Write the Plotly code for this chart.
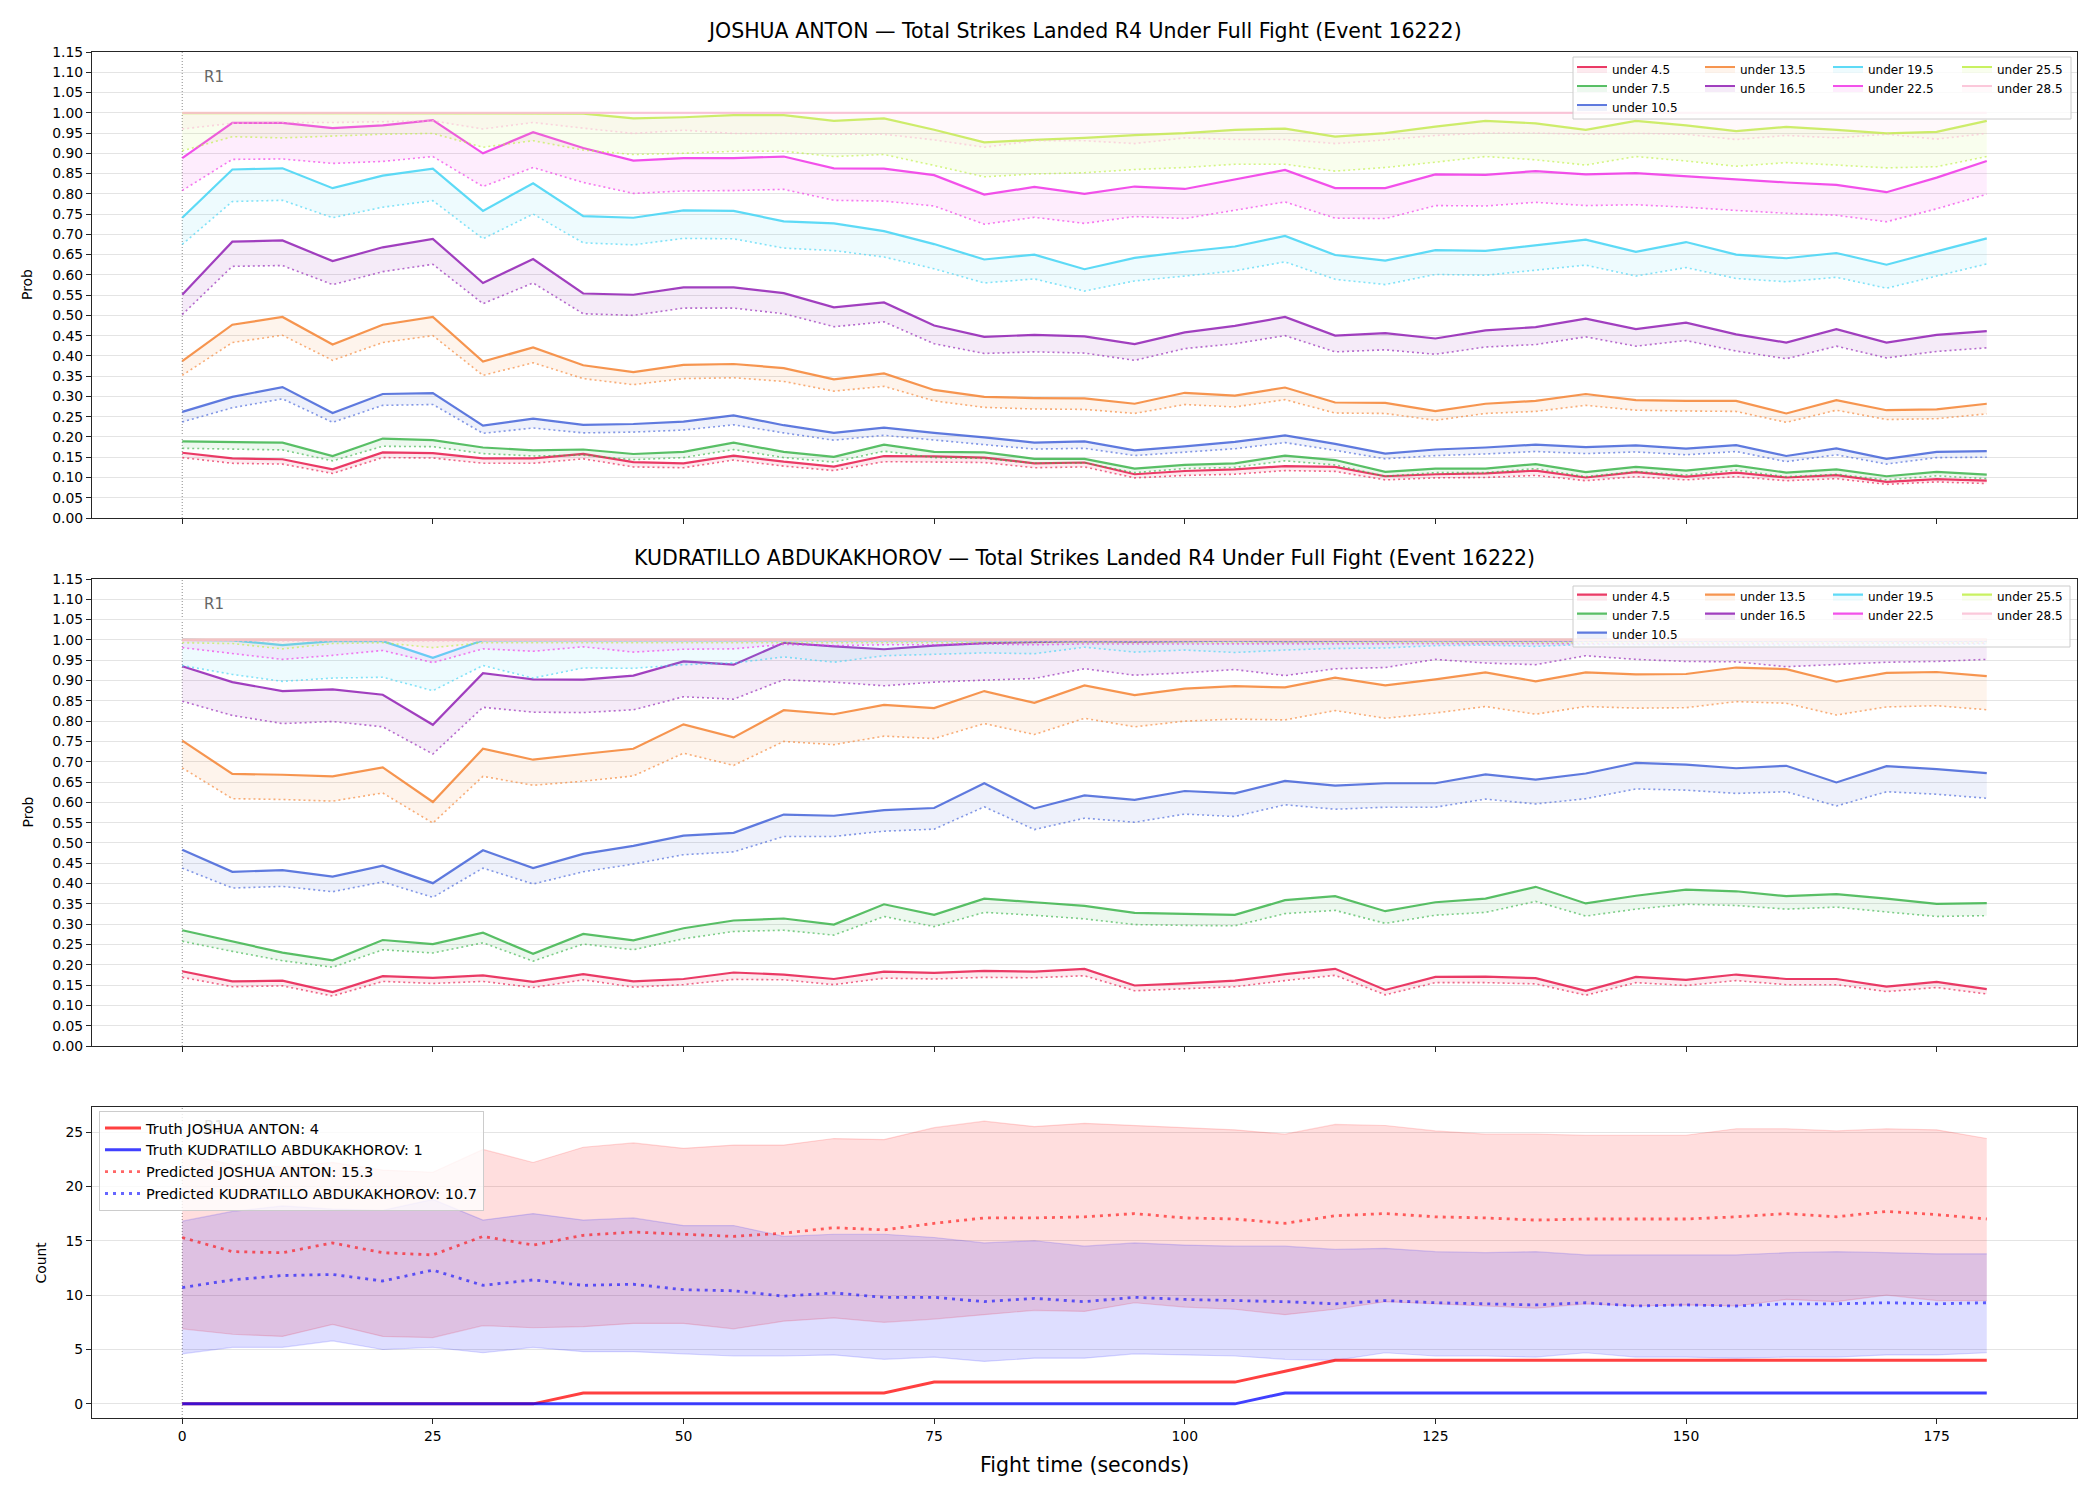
import plotly.graph_objects as go

# ---------------- data ----------------
time_s = [0, 5, 10, 15, 20, 25, 30, 35, 40, 45, 50, 55, 60, 65, 70, 75, 80, 85, 90,
          95, 100, 105, 110, 115, 120, 125, 130, 135, 140, 145, 150, 155, 160, 165, 170, 175, 180]

thresholds = ["under 4.5", "under 7.5", "under 10.5", "under 13.5", "under 16.5",
              "under 19.5", "under 22.5", "under 25.5", "under 28.5"]
threshold_colors = ["#e6194B", "#3cb44b", "#4363d8", "#f58231", "#911eb4",
                    "#42d4f4", "#f032e6", "#bfef45", "#fabed4"]

# JOSHUA ANTON (top panel): solid and dotted lines
anton_u4_5_solid = [0.161, 0.147, 0.145, 0.120, 0.162, 0.160, 0.147, 0.147, 0.158, 0.138, 0.135, 0.154, 0.139, 0.127, 0.153, 0.152, 0.149, 0.135, 0.137,
                    0.108, 0.116, 0.120, 0.128, 0.126, 0.103, 0.108, 0.110, 0.117, 0.100, 0.113, 0.102, 0.112, 0.100, 0.106, 0.089, 0.096, 0.092]
anton_u4_5_dotted = [0.149, 0.135, 0.133, 0.110, 0.149, 0.148, 0.135, 0.135, 0.146, 0.126, 0.124, 0.143, 0.128, 0.117, 0.139, 0.138, 0.137, 0.124, 0.126,
                     0.099, 0.105, 0.108, 0.117, 0.115, 0.094, 0.099, 0.100, 0.105, 0.092, 0.102, 0.094, 0.102, 0.092, 0.097, 0.083, 0.089, 0.085]
anton_u7_5_solid = [0.189, 0.188, 0.186, 0.153, 0.196, 0.192, 0.174, 0.167, 0.169, 0.158, 0.163, 0.186, 0.163, 0.151, 0.181, 0.163, 0.162, 0.146, 0.146,
                    0.122, 0.131, 0.135, 0.154, 0.143, 0.114, 0.122, 0.122, 0.133, 0.113, 0.126, 0.117, 0.129, 0.112, 0.120, 0.103, 0.114, 0.107]
anton_u7_5_dotted = [0.172, 0.170, 0.168, 0.141, 0.177, 0.176, 0.159, 0.153, 0.155, 0.144, 0.149, 0.169, 0.149, 0.138, 0.165, 0.149, 0.147, 0.135, 0.136,
                     0.112, 0.122, 0.125, 0.141, 0.131, 0.103, 0.112, 0.112, 0.122, 0.102, 0.115, 0.106, 0.118, 0.102, 0.108, 0.094, 0.104, 0.097]
anton_u10_5_solid = [0.262, 0.299, 0.323, 0.259, 0.306, 0.308, 0.228, 0.245, 0.230, 0.232, 0.238, 0.253, 0.229, 0.210, 0.223, 0.210, 0.199, 0.186, 0.189,
                     0.167, 0.177, 0.188, 0.204, 0.183, 0.159, 0.169, 0.174, 0.181, 0.175, 0.179, 0.171, 0.180, 0.153, 0.172, 0.146, 0.163, 0.165]
anton_u10_5_dotted = [0.237, 0.272, 0.294, 0.236, 0.278, 0.280, 0.209, 0.222, 0.210, 0.212, 0.217, 0.230, 0.210, 0.192, 0.204, 0.192, 0.181, 0.170, 0.172,
                      0.154, 0.162, 0.171, 0.186, 0.167, 0.146, 0.154, 0.158, 0.164, 0.159, 0.163, 0.156, 0.164, 0.139, 0.156, 0.133, 0.149, 0.150]
anton_u13_5_solid = [0.387, 0.477, 0.496, 0.428, 0.477, 0.496, 0.386, 0.421, 0.377, 0.360, 0.378, 0.380, 0.370, 0.342, 0.357, 0.316, 0.299, 0.296, 0.295,
                     0.282, 0.309, 0.302, 0.322, 0.285, 0.284, 0.264, 0.282, 0.289, 0.306, 0.291, 0.289, 0.289, 0.258, 0.291, 0.266, 0.268, 0.282]
anton_u13_5_dotted = [0.352, 0.433, 0.451, 0.389, 0.433, 0.450, 0.352, 0.383, 0.344, 0.329, 0.344, 0.346, 0.337, 0.313, 0.325, 0.289, 0.273, 0.269, 0.268,
                      0.258, 0.280, 0.274, 0.292, 0.259, 0.258, 0.241, 0.258, 0.263, 0.278, 0.266, 0.264, 0.263, 0.236, 0.266, 0.243, 0.245, 0.257]
anton_u16_5_solid = [0.551, 0.682, 0.685, 0.634, 0.668, 0.689, 0.580, 0.639, 0.554, 0.551, 0.569, 0.569, 0.555, 0.520, 0.532, 0.475, 0.447, 0.452, 0.448,
                     0.429, 0.458, 0.474, 0.496, 0.450, 0.456, 0.443, 0.463, 0.471, 0.492, 0.466, 0.482, 0.453, 0.433, 0.466, 0.433, 0.452, 0.461]
anton_u16_5_dotted = [0.502, 0.621, 0.623, 0.576, 0.608, 0.626, 0.529, 0.580, 0.504, 0.500, 0.518, 0.518, 0.504, 0.472, 0.484, 0.430, 0.406, 0.410, 0.407,
                      0.389, 0.418, 0.430, 0.450, 0.410, 0.415, 0.404, 0.422, 0.428, 0.447, 0.424, 0.438, 0.412, 0.393, 0.424, 0.395, 0.411, 0.420]
anton_u19_5_solid = [0.741, 0.860, 0.863, 0.814, 0.845, 0.862, 0.758, 0.826, 0.745, 0.741, 0.759, 0.758, 0.732, 0.727, 0.708, 0.676, 0.638, 0.650, 0.614,
                     0.642, 0.657, 0.670, 0.696, 0.649, 0.635, 0.661, 0.659, 0.673, 0.687, 0.657, 0.681, 0.650, 0.641, 0.654, 0.625, 0.658, 0.690]
anton_u19_5_dotted = [0.675, 0.781, 0.784, 0.741, 0.767, 0.783, 0.689, 0.750, 0.679, 0.674, 0.690, 0.689, 0.666, 0.660, 0.644, 0.615, 0.580, 0.590, 0.560,
                      0.585, 0.597, 0.610, 0.632, 0.589, 0.576, 0.601, 0.599, 0.611, 0.624, 0.597, 0.618, 0.591, 0.583, 0.594, 0.567, 0.597, 0.627]
anton_u22_5_solid = [0.888, 0.975, 0.975, 0.962, 0.969, 0.982, 0.900, 0.952, 0.913, 0.882, 0.888, 0.888, 0.892, 0.863, 0.862, 0.846, 0.798, 0.817, 0.800,
                     0.818, 0.812, 0.836, 0.859, 0.814, 0.814, 0.848, 0.847, 0.856, 0.848, 0.851, 0.843, 0.835, 0.828, 0.822, 0.804, 0.840, 0.881]
anton_u22_5_dotted = [0.808, 0.885, 0.886, 0.875, 0.880, 0.892, 0.818, 0.865, 0.828, 0.801, 0.807, 0.808, 0.811, 0.784, 0.782, 0.770, 0.725, 0.742, 0.727,
                      0.744, 0.739, 0.760, 0.780, 0.740, 0.739, 0.771, 0.770, 0.779, 0.771, 0.773, 0.767, 0.759, 0.752, 0.747, 0.731, 0.763, 0.799]
anton_u25_5_solid = [0.999, 0.999, 0.999, 0.999, 0.999, 0.999, 0.999, 0.999, 0.998, 0.986, 0.989, 0.994, 0.994, 0.980, 0.986, 0.958, 0.927, 0.933, 0.938,
                     0.945, 0.950, 0.958, 0.961, 0.941, 0.950, 0.966, 0.980, 0.974, 0.958, 0.980, 0.969, 0.955, 0.965, 0.958, 0.949, 0.953, 0.980]
anton_u25_5_dotted = [0.906, 0.941, 0.938, 0.943, 0.947, 0.949, 0.915, 0.931, 0.908, 0.897, 0.900, 0.905, 0.905, 0.892, 0.897, 0.870, 0.842, 0.849, 0.852,
                      0.860, 0.865, 0.873, 0.873, 0.856, 0.865, 0.878, 0.892, 0.884, 0.871, 0.892, 0.881, 0.868, 0.877, 0.871, 0.864, 0.867, 0.892]
anton_u28_5_solid = [1.000, 1.000, 1.000, 1.000, 1.000, 1.000, 1.000, 1.000, 1.000, 1.000, 1.000, 1.000, 1.000, 1.000, 1.000, 1.000, 1.000, 1.000, 1.000,
                     1.000, 1.000, 1.000, 1.000, 1.000, 1.000, 1.000, 1.000, 1.000, 1.000, 1.000, 1.000, 1.000, 1.000, 1.000, 1.000, 1.000, 1.000]
anton_u28_5_dotted = [0.960, 0.974, 0.976, 0.976, 0.978, 0.980, 0.960, 0.976, 0.962, 0.949, 0.957, 0.949, 0.949, 0.947, 0.947, 0.933, 0.915, 0.931, 0.931,
                      0.924, 0.938, 0.934, 0.934, 0.924, 0.933, 0.944, 0.950, 0.950, 0.947, 0.949, 0.947, 0.934, 0.944, 0.938, 0.947, 0.935, 0.949]

# KUDRATILLO ABDUKAKHOROV (middle panel)
kudra_u4_5_solid = [0.184, 0.159, 0.161, 0.133, 0.172, 0.168, 0.174, 0.158, 0.177, 0.159, 0.165, 0.181, 0.176, 0.165, 0.183, 0.180, 0.185, 0.183, 0.190,
                    0.149, 0.154, 0.161, 0.177, 0.190, 0.138, 0.170, 0.171, 0.167, 0.136, 0.170, 0.163, 0.176, 0.165, 0.165, 0.146, 0.158, 0.140]
kudra_u4_5_dotted = [0.169, 0.146, 0.148, 0.123, 0.159, 0.154, 0.159, 0.144, 0.163, 0.145, 0.151, 0.164, 0.163, 0.151, 0.167, 0.165, 0.169, 0.168, 0.173,
                     0.136, 0.141, 0.146, 0.161, 0.174, 0.126, 0.156, 0.156, 0.153, 0.125, 0.156, 0.149, 0.161, 0.151, 0.151, 0.134, 0.144, 0.128]
kudra_u7_5_solid = [0.285, 0.258, 0.230, 0.211, 0.261, 0.251, 0.279, 0.227, 0.276, 0.260, 0.290, 0.309, 0.314, 0.299, 0.349, 0.323, 0.363, 0.354, 0.345,
                    0.328, 0.326, 0.323, 0.359, 0.369, 0.332, 0.354, 0.363, 0.392, 0.351, 0.370, 0.385, 0.381, 0.369, 0.374, 0.363, 0.350, 0.352]
kudra_u7_5_dotted = [0.258, 0.233, 0.210, 0.194, 0.237, 0.229, 0.254, 0.209, 0.251, 0.237, 0.264, 0.282, 0.285, 0.273, 0.319, 0.294, 0.329, 0.322, 0.313,
                     0.299, 0.297, 0.296, 0.326, 0.334, 0.302, 0.322, 0.329, 0.356, 0.320, 0.337, 0.349, 0.346, 0.337, 0.342, 0.330, 0.319, 0.321]
kudra_u10_5_solid = [0.483, 0.429, 0.433, 0.417, 0.444, 0.401, 0.482, 0.438, 0.473, 0.493, 0.518, 0.525, 0.570, 0.567, 0.581, 0.586, 0.647, 0.585, 0.617,
                     0.606, 0.628, 0.622, 0.653, 0.641, 0.647, 0.647, 0.669, 0.656, 0.671, 0.697, 0.693, 0.684, 0.690, 0.649, 0.689, 0.682, 0.672]
kudra_u10_5_dotted = [0.438, 0.389, 0.393, 0.380, 0.404, 0.366, 0.438, 0.399, 0.429, 0.448, 0.471, 0.478, 0.516, 0.516, 0.529, 0.534, 0.589, 0.533, 0.561,
                      0.551, 0.571, 0.565, 0.594, 0.583, 0.588, 0.588, 0.608, 0.596, 0.609, 0.633, 0.630, 0.622, 0.626, 0.591, 0.626, 0.620, 0.610]
kudra_u13_5_solid = [0.752, 0.670, 0.668, 0.664, 0.686, 0.601, 0.732, 0.705, 0.719, 0.732, 0.792, 0.760, 0.827, 0.817, 0.840, 0.832, 0.874, 0.845, 0.888,
                     0.864, 0.880, 0.886, 0.883, 0.907, 0.888, 0.903, 0.920, 0.898, 0.920, 0.915, 0.916, 0.932, 0.928, 0.897, 0.919, 0.921, 0.911]
kudra_u13_5_dotted = [0.685, 0.609, 0.607, 0.603, 0.623, 0.549, 0.664, 0.642, 0.652, 0.665, 0.721, 0.691, 0.750, 0.742, 0.763, 0.757, 0.794, 0.767, 0.807,
                      0.786, 0.800, 0.805, 0.803, 0.826, 0.807, 0.820, 0.836, 0.817, 0.836, 0.832, 0.833, 0.848, 0.844, 0.815, 0.835, 0.838, 0.828]
kudra_u16_5_solid = [0.935, 0.896, 0.874, 0.878, 0.865, 0.791, 0.918, 0.903, 0.902, 0.912, 0.947, 0.939, 0.993, 0.984, 0.977, 0.986, 0.992, 0.995, 0.997,
                     0.996, 0.997, 0.998, 0.997, 0.998, 0.998, 0.999, 0.998, 0.999, 0.999, 0.999, 0.999, 0.999, 0.999, 0.999, 0.999, 0.999, 0.999]
kudra_u16_5_dotted = [0.849, 0.814, 0.794, 0.799, 0.786, 0.719, 0.834, 0.822, 0.821, 0.828, 0.860, 0.854, 0.902, 0.896, 0.887, 0.896, 0.901, 0.905, 0.929,
                      0.913, 0.919, 0.927, 0.912, 0.929, 0.932, 0.952, 0.943, 0.939, 0.961, 0.952, 0.947, 0.946, 0.934, 0.939, 0.945, 0.947, 0.952]
kudra_u19_5_solid = [1.000, 0.999, 0.987, 0.997, 0.997, 0.956, 0.999, 0.999, 0.999, 0.999, 0.999, 0.999, 0.999, 0.999, 0.999, 0.999, 0.999, 0.999, 0.999,
                     0.999, 0.999, 0.999, 0.999, 0.999, 0.999, 0.999, 0.999, 0.999, 0.999, 0.999, 0.999, 0.999, 0.999, 0.999, 0.999, 0.999, 0.999]
kudra_u19_5_dotted = [0.937, 0.915, 0.898, 0.906, 0.908, 0.875, 0.937, 0.906, 0.931, 0.930, 0.939, 0.943, 0.958, 0.945, 0.961, 0.964, 0.968, 0.966, 0.982,
                      0.970, 0.975, 0.969, 0.975, 0.979, 0.980, 0.986, 0.987, 0.984, 0.989, 0.988, 0.988, 0.987, 0.987, 0.986, 0.987, 0.988, 0.990]
kudra_u22_5_solid = [1.000, 1.000, 1.000, 1.000, 1.000, 0.999, 1.000, 1.000, 1.000, 1.000, 1.000, 1.000, 1.000, 1.000, 1.000, 1.000, 1.000, 1.000, 1.000,
                     1.000, 1.000, 1.000, 1.000, 1.000, 1.000, 1.000, 1.000, 1.000, 1.000, 1.000, 1.000, 1.000, 1.000, 1.000, 1.000, 1.000, 1.000]
kudra_u22_5_dotted = [0.981, 0.967, 0.952, 0.962, 0.974, 0.944, 0.978, 0.972, 0.983, 0.970, 0.977, 0.978, 0.989, 0.986, 0.988, 0.988, 0.990, 0.988, 0.990,
                      0.990, 0.990, 0.990, 0.990, 0.991, 0.991, 0.991, 0.991, 0.991, 0.991, 0.991, 0.991, 0.991, 0.991, 0.991, 0.992, 0.992, 0.992]
kudra_u25_5_solid = [1.000, 1.000, 1.000, 1.000, 1.000, 1.000, 1.000, 1.000, 1.000, 1.000, 1.000, 1.000, 1.000, 1.000, 1.000, 1.000, 1.000, 1.000, 1.000,
                     1.000, 1.000, 1.000, 1.000, 1.000, 1.000, 1.000, 1.000, 1.000, 1.000, 1.000, 1.000, 1.000, 1.000, 1.000, 1.000, 1.000, 1.000]
kudra_u25_5_dotted = [0.993, 0.991, 0.978, 0.991, 0.993, 0.981, 0.993, 0.993, 0.993, 0.993, 0.993, 0.993, 0.993, 0.993, 0.993, 0.993, 0.993, 0.993, 0.993,
                      0.993, 0.993, 0.993, 0.993, 0.993, 0.993, 0.993, 0.993, 0.993, 0.993, 0.993, 0.993, 0.993, 0.993, 0.993, 0.993, 0.993, 0.993]
kudra_u28_5_solid = [1.000, 1.000, 1.000, 1.000, 1.000, 1.000, 1.000, 1.000, 1.000, 1.000, 1.000, 1.000, 1.000, 1.000, 1.000, 1.000, 1.000, 1.000, 1.000,
                     1.000, 1.000, 1.000, 1.000, 1.000, 1.000, 1.000, 1.000, 1.000, 1.000, 1.000, 1.000, 1.000, 1.000, 1.000, 1.000, 1.000, 1.000]
kudra_u28_5_dotted = [0.997, 0.997, 0.996, 0.997, 0.997, 0.996, 0.997, 0.997, 0.997, 0.997, 0.997, 0.997, 0.997, 0.997, 0.997, 0.997, 0.997, 0.997, 0.997,
                      0.997, 0.997, 0.997, 0.997, 0.997, 0.997, 0.997, 0.997, 0.997, 0.997, 0.997, 0.997, 0.997, 0.997, 0.997, 0.997, 0.997, 0.997]

# Bottom panel: counts
anton_truth = [0, 0, 0, 0, 0, 0, 0, 0, 1, 1, 1, 1, 1, 1, 1, 2, 2, 2, 2,
               2, 2, 2, 3, 4, 4, 4, 4, 4, 4, 4, 4, 4, 4, 4, 4, 4, 4]
kudra_truth = [0, 0, 0, 0, 0, 0, 0, 0, 0, 0, 0, 0, 0, 0, 0, 0, 0, 0, 0,
               0, 0, 0, 1, 1, 1, 1, 1, 1, 1, 1, 1, 1, 1, 1, 1, 1, 1]
anton_pred = [15.3, 14.0, 13.9, 14.8, 13.9, 13.7, 15.4, 14.6, 15.5, 15.8, 15.6, 15.4, 15.7, 16.2, 16.0, 16.6, 17.1, 17.1, 17.2,
              17.5, 17.1, 17.0, 16.6, 17.3, 17.5, 17.2, 17.1, 16.9, 17.0, 17.0, 17.0, 17.2, 17.5, 17.2, 17.7, 17.4, 17.0]
anton_hi = [23.0, 22.0, 21.8, 22.2, 21.5, 21.3, 23.4, 22.2, 23.6, 24.0, 23.5, 23.8, 23.8, 24.4, 24.3, 25.4, 26.0, 25.5, 25.8,
            25.6, 25.4, 25.2, 24.8, 25.7, 25.6, 25.1, 24.8, 24.8, 24.7, 24.7, 24.7, 25.3, 25.3, 25.1, 25.3, 25.2, 24.4]
anton_lo = [6.9, 6.4, 6.2, 7.3, 6.2, 6.1, 7.2, 7.0, 7.1, 7.4, 7.4, 6.9, 7.6, 7.9, 7.5, 7.8, 8.2, 8.6, 8.5,
            9.3, 8.9, 8.7, 8.2, 8.7, 9.4, 9.2, 9.0, 8.8, 9.2, 9.0, 9.1, 9.0, 9.6, 9.4, 10.0, 9.5, 9.5]
kudra_pred = [10.7, 11.4, 11.8, 11.9, 11.3, 12.3, 10.9, 11.4, 10.9, 11.0, 10.5, 10.4, 9.9, 10.2, 9.8, 9.8, 9.4, 9.7, 9.4,
              9.8, 9.6, 9.5, 9.4, 9.2, 9.5, 9.3, 9.2, 9.1, 9.3, 9.0, 9.1, 9.0, 9.2, 9.2, 9.3, 9.2, 9.3]
kudra_hi = [16.8, 17.7, 18.2, 17.9, 17.8, 18.8, 16.9, 17.5, 16.9, 17.1, 16.4, 16.4, 15.4, 15.6, 15.6, 15.3, 14.8, 15.0, 14.5,
            14.8, 14.6, 14.5, 14.5, 14.2, 14.3, 14.0, 13.9, 14.0, 13.7, 13.7, 13.7, 13.7, 13.9, 14.0, 13.9, 13.8, 13.8]
kudra_lo = [4.6, 5.2, 5.2, 5.8, 5.0, 5.2, 4.7, 5.2, 4.8, 4.8, 4.6, 4.4, 4.4, 4.5, 4.1, 4.3, 3.9, 4.2, 4.2,
            4.6, 4.5, 4.4, 4.1, 4.0, 4.7, 4.4, 4.4, 4.3, 4.7, 4.3, 4.3, 4.2, 4.3, 4.3, 4.5, 4.5, 4.7]

fighter_a = "JOSHUA ANTON"
fighter_b = "KUDRATILLO ABDUKAKHOROV"
title_a = "JOSHUA ANTON — Total Strikes Landed R4 Under Full Fight (Event 16222)"
title_b = "KUDRATILLO ABDUKAKHOROV — Total Strikes Landed R4 Under Full Fight (Event 16222)"
x_ticks = [0, 25, 50, 75, 100, 125, 150, 175]
prob_ticks = [0.00, 0.05, 0.10, 0.15, 0.20, 0.25, 0.30, 0.35, 0.40, 0.45, 0.50, 0.55,
              0.60, 0.65, 0.70, 0.75, 0.80, 0.85, 0.90, 0.95, 1.00, 1.05, 1.10, 1.15]
count_ticks = [0, 5, 10, 15, 20, 25]

anton_solid = [anton_u4_5_solid, anton_u7_5_solid, anton_u10_5_solid, anton_u13_5_solid, anton_u16_5_solid,
               anton_u19_5_solid, anton_u22_5_solid, anton_u25_5_solid, anton_u28_5_solid]
anton_dotted = [anton_u4_5_dotted, anton_u7_5_dotted, anton_u10_5_dotted, anton_u13_5_dotted, anton_u16_5_dotted,
                anton_u19_5_dotted, anton_u22_5_dotted, anton_u25_5_dotted, anton_u28_5_dotted]
kudra_solid = [kudra_u4_5_solid, kudra_u7_5_solid, kudra_u10_5_solid, kudra_u13_5_solid, kudra_u16_5_solid,
               kudra_u19_5_solid, kudra_u22_5_solid, kudra_u25_5_solid, kudra_u28_5_solid]
kudra_dotted = [kudra_u4_5_dotted, kudra_u7_5_dotted, kudra_u10_5_dotted, kudra_u13_5_dotted, kudra_u16_5_dotted,
                kudra_u19_5_dotted, kudra_u22_5_dotted, kudra_u25_5_dotted, kudra_u28_5_dotted]

for arr in anton_solid + anton_dotted + kudra_solid + kudra_dotted + [
        anton_truth, kudra_truth, anton_pred, anton_hi, anton_lo, kudra_pred, kudra_hi, kudra_lo]:
    assert len(arr) == len(time_s), len(arr)

# ---------------- styling helpers ----------------
W, H = 2100, 1500
FONT = "DejaVu Sans"


def rgba(hexcol, a):
    h = hexcol.lstrip("#")
    r, g, b = int(h[0:2], 16), int(h[2:4], 16), int(h[4:6], 16)
    return f"rgba({r},{g},{b},{a})"


def px_x(p):
    return p / W


def px_y(p):
    return 1 - p / H


legend_col = [0, 0, 0, 1, 1, 2, 2, 3, 3]


def leg_name(k):
    return "legend" if k == 1 else f"legend{k}"


fig = go.Figure()

panels = [(anton_solid, anton_dotted, "x", "y", 1), (kudra_solid, kudra_dotted, "x2", "y2", 5)]
for solid_list, dotted_list, xa, ya, leg0 in panels:
    for i, name in enumerate(thresholds):
        col = threshold_colors[i]
        fig.add_trace(go.Scatter(
            x=time_s, y=dotted_list[i], mode="lines", xaxis=xa, yaxis=ya,
            line=dict(color=rgba(col, 0.65), width=1.6, dash="2px,3px"),
            showlegend=False, hoverinfo="skip"))
        fig.add_trace(go.Scatter(
            x=time_s, y=solid_list[i], mode="lines", xaxis=xa, yaxis=ya,
            line=dict(color=rgba(col, 0.85), width=2.2),
            fill="tonexty", fillcolor=rgba(col, 0.09),
            name=name, legend=leg_name(leg0 + legend_col[i]), showlegend=True))

# bottom panel
RED, BLUE = "#ff0000", "#0000ff"
fig.add_trace(go.Scatter(x=time_s, y=anton_lo, mode="lines", xaxis="x3", yaxis="y3",
                         line=dict(color=rgba(RED, 0.15), width=1.2), showlegend=False, hoverinfo="skip"))
fig.add_trace(go.Scatter(x=time_s, y=anton_hi, mode="lines", xaxis="x3", yaxis="y3",
                         line=dict(color=rgba(RED, 0.15), width=1.2), fill="tonexty",
                         fillcolor=rgba(RED, 0.13), showlegend=False, hoverinfo="skip"))
fig.add_trace(go.Scatter(x=time_s, y=kudra_lo, mode="lines", xaxis="x3", yaxis="y3",
                         line=dict(color=rgba(BLUE, 0.15), width=1.2), showlegend=False, hoverinfo="skip"))
fig.add_trace(go.Scatter(x=time_s, y=kudra_hi, mode="lines", xaxis="x3", yaxis="y3",
                         line=dict(color=rgba(BLUE, 0.15), width=1.2), fill="tonexty",
                         fillcolor=rgba(BLUE, 0.13), showlegend=False, hoverinfo="skip"))
fig.add_trace(go.Scatter(x=time_s, y=anton_truth, mode="lines", xaxis="x3", yaxis="y3",
                         line=dict(color=rgba(RED, 0.75), width=3),
                         name=f"Truth {fighter_a}: {anton_truth[-1]}", legend="legend9"))
fig.add_trace(go.Scatter(x=time_s, y=kudra_truth, mode="lines", xaxis="x3", yaxis="y3",
                         line=dict(color=rgba(BLUE, 0.75), width=3),
                         name=f"Truth {fighter_b}: {kudra_truth[-1]}", legend="legend9"))
fig.add_trace(go.Scatter(x=time_s, y=anton_pred, mode="lines", xaxis="x3", yaxis="y3",
                         line=dict(color=rgba(RED, 0.6), width=2.8, dash="3px,5px"),
                         name=f"Predicted {fighter_a}: {anton_pred[0]}", legend="legend9"))
fig.add_trace(go.Scatter(x=time_s, y=kudra_pred, mode="lines", xaxis="x3", yaxis="y3",
                         line=dict(color=rgba(BLUE, 0.6), width=2.8, dash="3px,5px"),
                         name=f"Predicted {fighter_b}: {kudra_pred[0]}", legend="legend9"))

# ---------------- layout ----------------
xdom = [px_x(92), px_x(2077)]
ydoms = [[px_y(518), px_y(52)], [px_y(1046), px_y(579)], [px_y(1418), px_y(1107)]]
AX = "#262626"
GRID = "#e4e4e4"
tickfont = dict(family=FONT, size=13.9, color="black")

common_x = dict(domain=xdom, range=[-9, 189], tickmode="array", tickvals=x_ticks,
                ticks="outside", ticklen=5, tickwidth=1.1, tickcolor=AX,
                showline=True, linecolor=AX, linewidth=1.3, mirror=True,
                showgrid=False, zeroline=False, tickfont=tickfont, automargin=False)
prob_y = dict(range=[0, 1.15], tickmode="array", tickvals=prob_ticks,
              ticktext=[f"{v:.2f}" for v in prob_ticks],
              ticks="outside", ticklen=5, tickwidth=1.1, tickcolor=AX,
              showline=True, linecolor=AX, linewidth=1.3, mirror=True,
              showgrid=True, gridcolor=GRID, gridwidth=1, zeroline=False, tickfont=tickfont,
              automargin=False)

layout = dict(
    width=W, height=H, margin=dict(l=0, r=0, t=0, b=0, autoexpand=False),
    paper_bgcolor="white", plot_bgcolor="white",
    font=dict(family=FONT, color="black"),
    xaxis=dict(common_x, anchor="y", showticklabels=False),
    yaxis=dict(prob_y, domain=ydoms[0], anchor="x"),
    xaxis2=dict(common_x, anchor="y2", showticklabels=False),
    yaxis2=dict(prob_y, domain=ydoms[1], anchor="x2"),
    xaxis3=dict(common_x, anchor="y3", showticklabels=True),
    yaxis3=dict(domain=ydoms[2], anchor="x3", range=[-1.3, 27.3], tickmode="array",
                tickvals=count_ticks, ticks="outside", ticklen=5, tickwidth=1.1, tickcolor=AX,
                showline=True, linecolor=AX, linewidth=1.3, mirror=True,
                showgrid=True, gridcolor=GRID, gridwidth=1, zeroline=False, tickfont=tickfont,
                automargin=False),
)

# threshold legends (4 columns per panel, each a vertical legend)
col_px = [1572, 1700, 1828, 1957]
leg_top_px = [54.5, 582.2]
for p in range(2):
    for c in range(4):
        k = 1 + 4 * p + c
        layout[leg_name(k)] = dict(
            x=px_x(col_px[c]), y=px_y(leg_top_px[p]), xanchor="left", yanchor="top",
            orientation="v", bgcolor="rgba(0,0,0,0)", borderwidth=0, traceorder="normal",
            font=dict(family=FONT, size=12, color="black"), tracegroupgap=0,
            itemclick=False, itemdoubleclick=False)

layout["legend9"] = dict(
    x=px_x(99), y=px_y(1111), xanchor="left", yanchor="top", orientation="v",
    traceorder="normal",
    bgcolor="rgba(255,255,255,0.8)", bordercolor="#cccccc", borderwidth=1,
    font=dict(family=FONT, size=14.5, color="black"), itemwidth=36, tracegroupgap=0)

fig.update_layout(**layout)

shapes = []
# legend boxes for threshold legends
for (x0, x1, y0, y1) in [(1573, 2071, 57, 119), (1573, 2070, 586, 647)]:
    shapes.append(dict(type="rect", xref="paper", yref="paper",
                       x0=px_x(x0), x1=px_x(x1), y0=px_y(y1), y1=px_y(y0),
                       fillcolor="rgba(255,255,255,0.8)", line=dict(color="#cccccc", width=1),
                       layer="above"))
# round-start marker lines
for xa, ya in [("x", "y"), ("x2", "y2"), ("x3", "y3")]:
    shapes.append(dict(type="line", xref=xa, yref=f"{ya} domain", x0=0, x1=0, y0=0, y1=1,
                       line=dict(color="rgba(110,110,110,0.8)", width=1, dash="1px,2px"),
                       layer="below"))
fig.update_layout(shapes=shapes)

ann = []
xc = (xdom[0] + xdom[1]) / 2
ann.append(dict(text=title_a, x=xc, y=px_y(31), xref="paper", yref="paper",
                xanchor="center", yanchor="middle", showarrow=False,
                font=dict(family=FONT, size=20.5, color="black")))
ann.append(dict(text=title_b, x=xc, y=px_y(558), xref="paper", yref="paper",
                xanchor="center", yanchor="middle", showarrow=False,
                font=dict(family=FONT, size=20.5, color="black")))
ann.append(dict(text="Fight time (seconds)", x=xc, y=px_y(1465), xref="paper", yref="paper",
                xanchor="center", yanchor="middle", showarrow=False,
                font=dict(family=FONT, size=20.5, color="black")))
ann.append(dict(text="Prob", x=px_x(27), y=(ydoms[0][0] + ydoms[0][1]) / 2, xref="paper", yref="paper",
                xanchor="center", yanchor="middle", showarrow=False, textangle=-90,
                font=dict(family=FONT, size=13.9, color="black")))
ann.append(dict(text="Prob", x=px_x(27), y=(ydoms[1][0] + ydoms[1][1]) / 2, xref="paper", yref="paper",
                xanchor="center", yanchor="middle", showarrow=False, textangle=-90,
                font=dict(family=FONT, size=13.9, color="black")))
ann.append(dict(text="Count", x=px_x(40), y=(ydoms[2][0] + ydoms[2][1]) / 2, xref="paper", yref="paper",
                xanchor="center", yanchor="middle", showarrow=False, textangle=-90,
                font=dict(family=FONT, size=13.9, color="black")))
for xa, ya, colr in [("x", "y", "#666666"), ("x2", "y2", "#666666"), ("x3", "y3", "rgba(102,102,102,0.2)")]:
    ann.append(dict(text="R1", x=2, y=0.97, xref=xa, yref=f"{ya} domain",
                    xanchor="left", yanchor="top", showarrow=False,
                    font=dict(family=FONT, size=15, color=colr)))
fig.update_layout(annotations=ann)

fig.write_html("out.html")
